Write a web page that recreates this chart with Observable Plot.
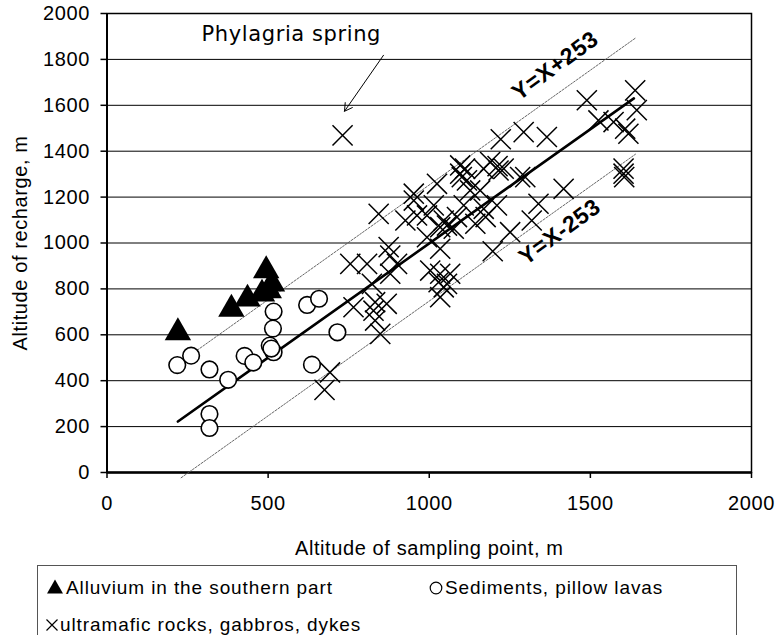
<!DOCTYPE html>
<html><head><meta charset="utf-8">
<script src="https://cdn.jsdelivr.net/npm/d3@7"></script>
<script src="https://cdn.jsdelivr.net/npm/@observablehq/plot@0.6"></script>
<style>
html,body{margin:0;padding:0;background:#fff;}
#wrap{position:relative;width:776px;height:635px;overflow:hidden;font-family:'Liberation Sans',Arial,sans-serif;}
#legend{position:absolute;left:37px;top:565px;width:700px;height:90px;border:1px solid #555;box-sizing:border-box;font-size:19px;letter-spacing:0.9px;color:#000;}
#legend span{position:absolute;white-space:nowrap;line-height:1;}
#legend svg{position:absolute;overflow:visible;}
</style></head>
<body><div id="wrap"><div id="chart"></div><div id="legend"></div></div>
<script>
// Alluvium in the southern part (triangles)
const alluvium = [[220,610],[386,712],[436,756],[481,778],[494,880],[512,822],[502,793]];
// Sediments, pillow lavas (circles)
const sediments = [[218,468],[261,509],[318,449],[376,404],[318,255],[318,194],[427,508],[454,479],
  [517,701],[515,627],[505,553],[517,524],[510,540],[621,730],[658,757],[715,611],[636,470]];
// ultramafic rocks, gabbros, dykes (crosses)
const ultramafic = [[731,1469],
  [1639,1665],[1644,1579],[1489,1622],[1525,1534],[1572,1527],[1608,1498],[1618,1476],
  [1293,1483],[1365,1462],[1222,1452],[1603,1324],[1603,1302],[1605,1287],
  [1417,1236],[1339,1171],[1318,1098],[1298,1287],[1282,1287],
  [1231,1324],[1189,1353],[1212,1335],[1215,1316],
  [1096,1338],[1111,1324],[1101,1287],[1117,1273],[1096,1302],[1169,1323],
  [1024,1258],[1127,1229],[1158,1229],
  [1014,1164],[1107,1164],[1210,1164],[1169,1149],[1175,1113],
  [993,1120],[1045,1098],[1086,1113],[1143,1084],[1034,1069],[1076,1062],[1251,1047],[1197,964],
  [952,1215],[952,1185],[843,1127],[926,1098],[962,1120],[1055,1076],[993,1025],[1034,975],[874,982],[879,945],
  [755,909],[807,909],[900,909],[879,866],[822,822],[765,720],[832,742],[868,735],[827,705],[832,662],[848,604],
  [1003,880],[1034,866],[1065,866],[1029,829],[1055,822],[1034,764],[1045,807],
  [692,436],[675,360]];
// fitted line and envelope lines (endpoints)
const fitLine = [[220,222],[1635,1630]];
const upperLine = [[280,533],[1640,1893]];
const lowerLine = [[230,-23],[1640,1387]];
const lineLabels = [{x:1391,y:1772,text:"Y=X+253"},{x:1405,y:1048,text:"Y=X-253"}];
const annotation = [{x:572,y:1910,text:"Phylagria spring"}];
const arrowData = [{x1:858,y1:1818,x2:737,y2:1574}];
const xTicks = [0,500,1000,1500,2000];
const yTicks = [0,200,400,600,800,1000,1200,1400,1600,1800,2000];
const legendRow1 = ["Alluvium in the southern part","Sediments, pillow lavas"];
const legendRow2 = ["ultramafic rocks, gabbros, dykes"];

const chart = Plot.plot({
  width: 776, height: 560,
  marginLeft: 106.5, marginRight: 25, marginTop: 13, marginBottom: 88,
  x: {domain:[0,2000]}, y: {domain:[0,2000]},
  style: {fontFamily:"'Liberation Sans', Arial, sans-serif", fontSize:"20px", color:"#000", background:"#fff", letterSpacing:"0.6px", overflow:"visible"},
  marks: [
    Plot.gridY(yTicks, {stroke:"#000", strokeOpacity:1, strokeWidth:1}),
    Plot.axisY(yTicks, {tickSize:6, tickPadding:11, strokeWidth:1.5, tickFormat:d=>String(d), label:"Altitude of recharge, m", labelAnchor:"center", labelArrow:"none", labelOffset:94}),
    Plot.axisX(xTicks, {tickSize:6, tickPadding:17, strokeWidth:1.5, tickFormat:d=>String(d), label:"Altitude of sampling point, m", labelAnchor:"center", labelArrow:"none", labelOffset:82}),
    Plot.frame({stroke:"#000", strokeWidth:1.5}),
    Plot.ruleY([0], {stroke:"#000", strokeWidth:2.5}),
    Plot.ruleX([0], {stroke:"#000", strokeWidth:2}),
    Plot.line(upperLine, {x:d=>d[0], y:d=>d[1], stroke:"#555", strokeWidth:0.9, strokeDasharray:"2,1.5"}),
    Plot.line(lowerLine, {x:d=>d[0], y:d=>d[1], stroke:"#555", strokeWidth:0.9, strokeDasharray:"2,1.5"}),
    Plot.line(fitLine, {x:d=>d[0], y:d=>d[1], stroke:"#000", strokeWidth:2.6}),
    Plot.dot(ultramafic, {x:d=>d[0], y:d=>d[1], symbol:"times", r:9.2, stroke:"#000", strokeWidth:1.5}),
    Plot.dot(sediments, {x:d=>d[0], y:d=>d[1], symbol:"circle", r:8.3, stroke:"#000", strokeWidth:1.6, fill:"#fff"}),
    Plot.dot(alluvium, {x:d=>d[0], y:d=>d[1], symbol:"triangle", r:9.8, fill:"#000", stroke:"none"}),
    Plot.text(lineLabels, {x:"x", y:"y", text:"text", rotate:-36, fontWeight:"bold", fontSize:23, fill:"#000"}),
    Plot.text(annotation, {x:"x", y:"y", text:"text", fontFamily:"'DejaVu Sans', sans-serif", fontSize:21, fill:"#000"}),
    Plot.arrow(arrowData, {x1:"x1", y1:"y1", x2:"x2", y2:"y2", stroke:"#000", strokeWidth:1, headLength:13, bend:0})
  ]
});
chart.querySelectorAll("text").forEach(t => {});
document.getElementById("chart").appendChild(chart);

const legend = document.getElementById("legend");
function addItem(text, left, top){
  const s = document.createElement("span");
  s.textContent = text; s.style.left = left+"px"; s.style.top = top+"px";
  legend.appendChild(s);
}
function addSymbol(kind, cx, cy){
  const ns = "http://www.w3.org/2000/svg";
  const svg = document.createElementNS(ns, "svg");
  svg.setAttribute("width", 20); svg.setAttribute("height", 20);
  svg.style.left = (cx-10)+"px"; svg.style.top = (cy-10)+"px";
  let el;
  if (kind === "triangle") {
    el = document.createElementNS(ns, "path");
    el.setAttribute("d", "M10,2.5L18,16.5L2,16.5Z"); el.setAttribute("fill", "#000");
  } else if (kind === "circle") {
    el = document.createElementNS(ns, "circle");
    el.setAttribute("cx", 10); el.setAttribute("cy", 10); el.setAttribute("r", 5.8);
    el.setAttribute("fill", "none"); el.setAttribute("stroke", "#000"); el.setAttribute("stroke-width", 1.2);
  } else {
    el = document.createElementNS(ns, "path");
    el.setAttribute("d", "M4.5,4.5L15.5,15.5M15.5,4.5L4.5,15.5");
    el.setAttribute("stroke", "#000"); el.setAttribute("stroke-width", 1.2);
  }
  svg.appendChild(el); legend.appendChild(svg);
}
addSymbol("triangle", 17, 21); addItem(legendRow1[0], 28, 12);
addSymbol("circle", 398, 22); addItem(legendRow1[1], 407, 12);
addSymbol("cross", 14, 59); addItem(legendRow2[0], 22, 49);
</script></body></html>
